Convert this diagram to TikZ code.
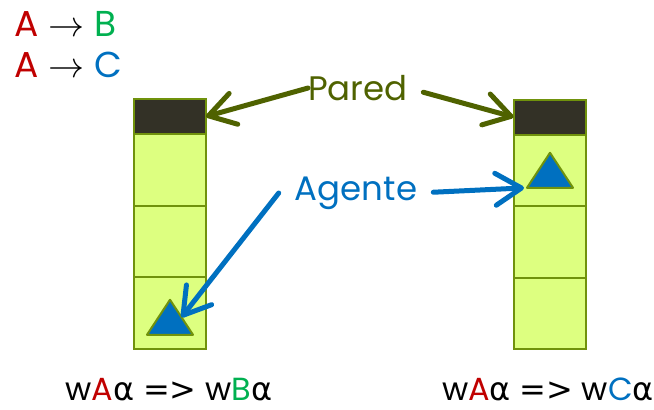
\documentclass[tikz,border=0pt]{standalone}
\usepackage{fix-cm}
\usepackage{fontspec}
\setmainfont{Poppins}
\newfontfamily\greekfont{DejaVu Sans}
\usetikzlibrary{arrows.meta}
\usetikzlibrary{positioning}

\definecolor{cellfill}{RGB}{221,255,128}
\definecolor{celledge}{RGB}{112,146,12}
\definecolor{walldark}{RGB}{51,49,38}
\definecolor{paredgreen}{RGB}{79,98,0}
\definecolor{agentblue}{RGB}{0,112,192}
\definecolor{symred}{RGB}{192,0,0}
\definecolor{symgreen}{RGB}{0,176,80}

\newcommand{\alfa}{{\greekfont α}}
\newcommand{\implica}{{\greekfont =>}}

\begin{document}
\begin{tikzpicture}[
					x=1pt, y=-1pt,
					cell/.style={draw=celledge, line width=2pt, fill=cellfill, minimum width=72pt, minimum height=71.5pt, outer sep=0pt, inner sep=0pt},
					wall/.style={cell, fill=walldark, minimum height=35pt},
					agent/.style={draw=celledge, line width=2pt, fill=agentblue, line join=round},
					arrow/.style={line width=5pt, line cap=round, -{Straight Barb[length=26pt, width=32pt, line cap=round, line join=round]}},
					big/.style={font=\fontsize{36}{40}\selectfont},
					label/.style={font=\fontsize{34}{38}\selectfont, inner sep=0pt},
					deriv/.style={font=\fontsize{32}{36}\selectfont, anchor=base, inner sep=0pt},
				]
			        \useasboundingbox (0,0) rectangle (654,410);

			        % rules in the corner
			        \node[big, anchor=base west, inner sep=0pt] (ruleB) at (14,36) {\textcolor{symred}{A}\;$\rightarrow$\;\textcolor{symgreen}{B}};
			        \node[big, anchor=base west, inner sep=0pt] (ruleC) at (14,77) {\textcolor{symred}{A}\;$\rightarrow$\;\textcolor{agentblue}{C}};

			        % left tape
			        \node[wall] (wallL) at (170,116.5) {};
			        \node[cell, below=0pt of wallL] (cellL1) {};
			        \node[cell, below=0pt of cellL1] (cellL2) {};
			        \node[cell, below=0pt of cellL2] (cellL3) {};

			        % right tape
			        \node[wall] (wallR) at (549.5,117) {};
			        \node[cell, below=0pt of wallR] (cellR1) {};
			        \node[cell, below=0pt of cellR1] (cellR2) {};
			        \node[cell, below=0pt of cellR2] (cellR3) {};

			        % the agent in each tape
			        \draw[agent] (cellL3.center) ++(0,-13) -- ++(23,35) coordinate[pos=0.5] (hitL) -- ++(-46,0) -- cycle;
			        \draw[agent] (cellR1.center) ++(0.5,-17.5) -- ++(23,35) -- ++(-46,0) coordinate (hitR) -- cycle;

			        % labels
			        \node[label, text=paredgreen] (pared) at (358,88) {Pared};
			        \node[label, text=agentblue] (agente) at (356,193) {Agente};

			        \draw[arrow, paredgreen] (pared.west) -- (wallL.east);
			        \draw[arrow, paredgreen, shorten <=16pt] (pared.east) -- (wallR.west);
			        \draw[arrow, agentblue] ([xshift=-16pt]agente.west) -- (hitL);
			        \draw[arrow, agentblue, shorten <=16pt, shorten >=3pt] (agente.east) -- (hitR);

			        % derivations
			        \node[deriv] (derivL) at (169,400) {w\textcolor{symred}{A}\alfa{} \implica{} w\textcolor{symgreen}{B}\alfa};
			        \node[deriv] (derivR) at (548,400) {w\textcolor{symred}{A}\alfa{} \implica{} w\textcolor{agentblue}{C}\alfa};
			    \end{tikzpicture}
\end{document}
